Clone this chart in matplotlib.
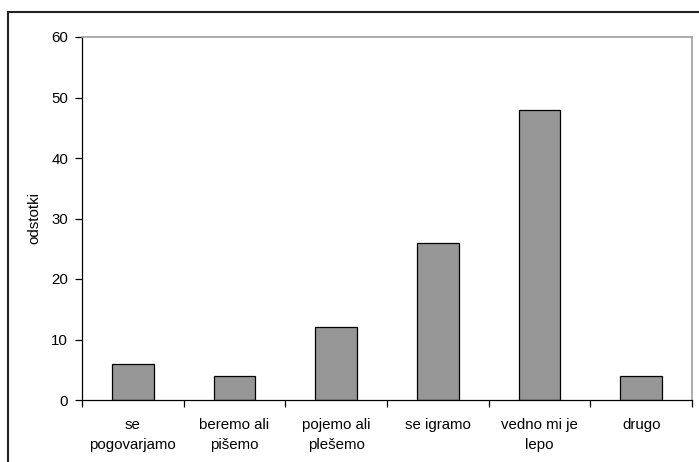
import matplotlib
matplotlib.use('Agg')
import matplotlib.pyplot as plt
from matplotlib.patches import Rectangle
import numpy as np

plt.rcParams['font.family'] = ['Liberation Sans', 'DejaVu Sans']

# podatki
kategorije = ['se\npogovarjamo', 'beremo ali\npišemo', 'pojemo ali\nplešemo',
              'se igramo', 'vedno mi je\nlepo', 'drugo']
odstotki = [6, 4, 12, 26, 48, 4]
y_ticks = [0, 10, 20, 30, 40, 50, 60]

fs = 10.8

fig = plt.figure(figsize=(6.99, 4.62), dpi=100)
ax = fig.add_axes([82/699, 62/462, 610/699, 363/462])

x = np.arange(len(kategorije))
ax.bar(x, odstotki, width=0.41, color='#969696', edgecolor='black', linewidth=0.9)

ax.set_xlim(-0.5, len(kategorije) - 0.5)
ax.set_ylim(0, 60)
ax.set_yticks(y_ticks)
ax.tick_params(axis='y', length=5, width=0.9, labelsize=fs, pad=5)

# kljukice med kategorijami, oznake na sredini
ax.set_xticks(np.arange(-0.5, len(kategorije)), minor=False)
ax.set_xticklabels([])
ax.tick_params(axis='x', length=5, width=0.9)
for i, lab in enumerate(kategorije):
    ax.text(i, -2.95, lab, ha='center', va='top', fontsize=fs, linespacing=1.55,
            transform=ax.transData)

ax.set_ylabel('odstotki', fontsize=fs, labelpad=7)

for s in ['top', 'right']:
    ax.spines[s].set_color('#a0a0a0')
    ax.spines[s].set_linewidth(1.2)
for s in ['left', 'bottom']:
    ax.spines[s].set_color('black')
    ax.spines[s].set_linewidth(0.9)

# okvir slike
fig.patches.append(Rectangle((8/699, -0.1), 1.2, 1 - 12/462 + 0.1,
                             transform=fig.transFigure, fill=False,
                             edgecolor='#222222', linewidth=1.5))

fig.savefig('out.png', dpi=100)
